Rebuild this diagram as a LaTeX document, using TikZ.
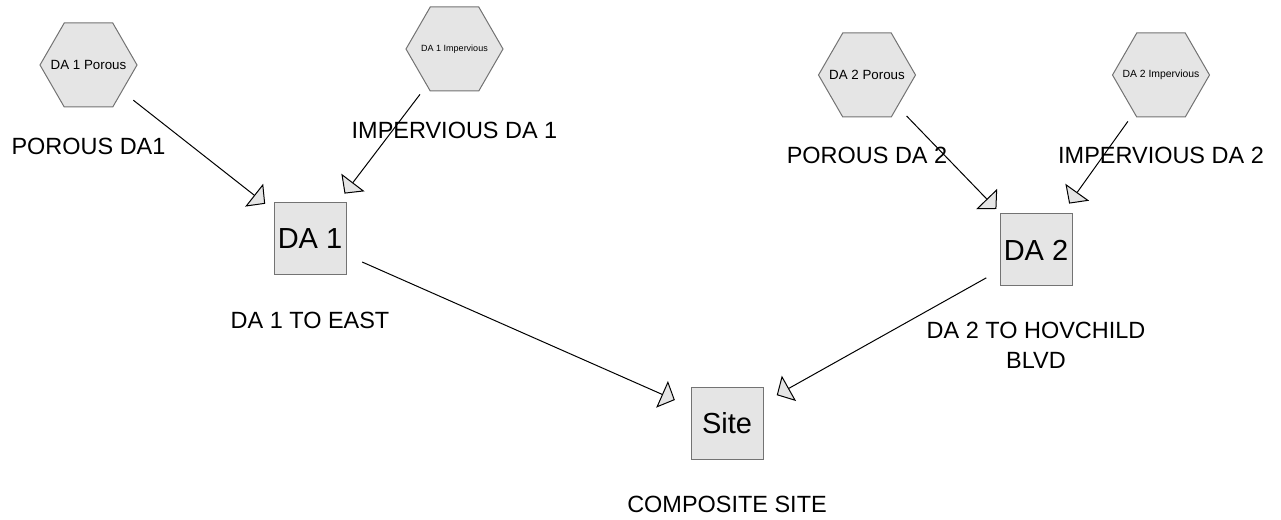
\documentclass[tikz,border=0pt]{standalone}
\usepackage{fontspec}
\setmainfont{Liberation Sans}
\usetikzlibrary{shapes.geometric,arrows.meta}

\begin{document}
\begin{tikzpicture}[x=0.75pt,y=-0.75pt,
    hexa/.style={regular polygon,regular polygon sides=6,minimum size=72.75pt,inner sep=0pt,draw=black!55,fill=black!10,line width=0.75pt},
    area/.style={rectangle,minimum size=54pt,inner sep=0pt,draw=black!55,fill=black!10,line width=0.75pt,font=\fontsize{21.75}{26}\selectfont},
    tag/.style={font=\fontsize{17.6}{22.5}\selectfont,align=center,inner sep=0pt},
    flow/.style={line width=0.75pt,-{Triangle[length=10.5pt,width=21.75pt,fill=black!10]},shorten >=42.75pt,shorten <=42.75pt}]
      \useasboundingbox (0,0) rectangle (1281,520);
      \node[hexa,font=\fontsize{10}{12}\selectfont] (p1) at (88.5,65) {\makebox[0pt]{DA 1 Porous}};
      \node[hexa,font=\fontsize{6.75}{8}\selectfont] (i1) at (454.5,49) {\makebox[0pt]{DA 1 Impervious}};
      \node[hexa,font=\fontsize{10}{12}\selectfont] (p2) at (867,75) {\makebox[0pt]{DA 2 Porous}};
      \node[hexa,font=\fontsize{7.8}{9}\selectfont] (i2) at (1161,75) {\makebox[0pt]{DA 2 Impervious}};
      \node[area] (d1) at (310,239) {DA 1};
      \node[area] (d2) at (1036,250) {DA 2};
      \node[area] (s) at (727,423) {Site};
      \node[tag] (lp1) at (88.5,146) {POROUS DA1};
      \node[tag] (li1) at (454.5,130) {IMPERVIOUS DA 1};
      \node[tag] (lp2) at (867,155.5) {POROUS DA 2};
      \node[tag] (li2) at (1161,155.5) {IMPERVIOUS DA 2};
      \node[tag] (ld1) at (310,320) {DA 1 TO EAST};
      \node[tag] (ld2) at (1036,345) {DA 2 TO HOVCHILD\\BLVD};
      \node[tag] (ls) at (727,504) {COMPOSITE SITE};
    \draw[flow] (p1.center) -- (d1.center);
    \draw[flow] (i1.center) -- (d1.center);
    \draw[flow] (p2.center) -- (d2.center);
    \draw[flow] (i2.center) -- (d2.center);
    \draw[flow] (d1.center) -- (s.center);
    \draw[flow] (d2.center) -- (s.center);
\end{tikzpicture}
\end{document}
